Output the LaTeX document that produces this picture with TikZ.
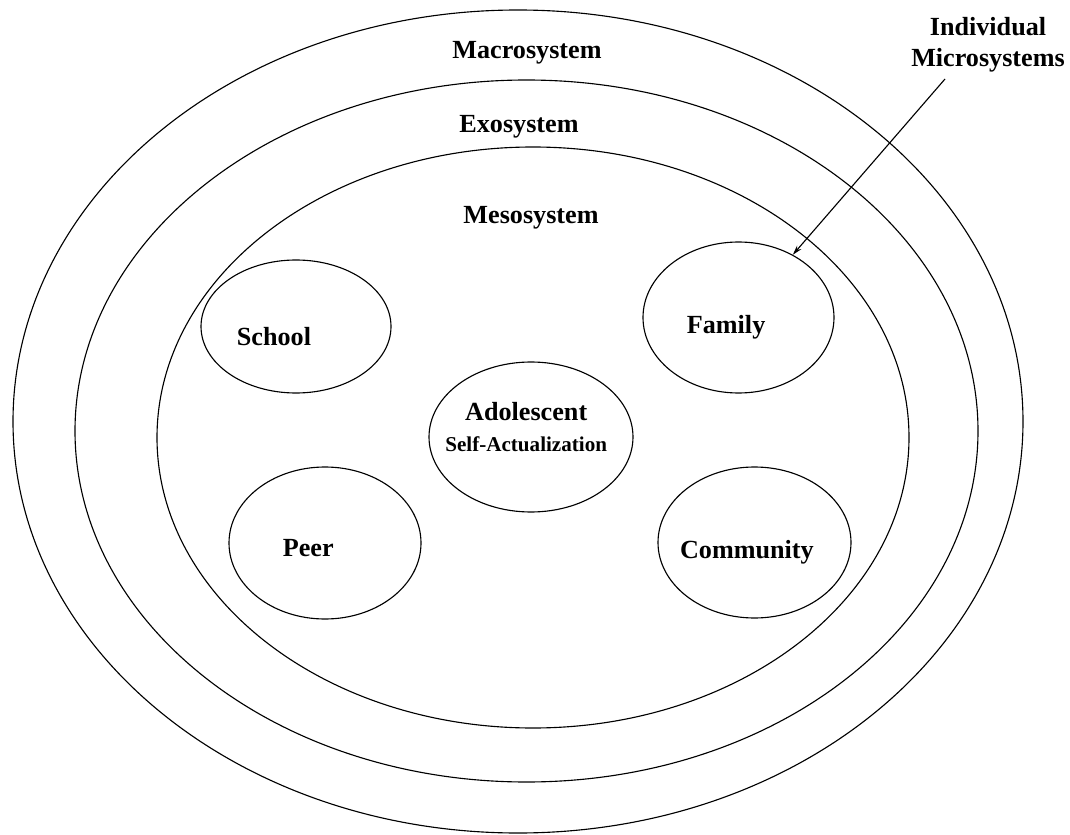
\documentclass[tikz,border=0pt]{standalone}
\usepackage{fontspec}
\setmainfont{Liberation Serif}
\usepackage{tikz}
\usetikzlibrary{shapes.geometric,arrows.meta}

\begin{document}
\begin{tikzpicture}
	\tikzstyle{ring}=[ellipse, draw=black, line width=0.8pt, inner sep=0pt]
	\tikzstyle{micro}=[ellipse, draw=black, line width=0.8pt, inner sep=0pt]
	\tikzstyle{title}=[font=\fontsize{18.6}{22}\selectfont\bfseries]
	\useasboundingbox (0,0) rectangle (26.75,-20.875);
	
	% Rings
	\node at (12.95,-10.5375) [ring, minimum width=25.25cm, minimum height=20.575cm] (macro) {};
	\node at (13.1625,-10.775) [ring, minimum width=22.575cm, minimum height=17.55cm] (exo) {};
	\node at (13.325,-10.9375) [ring, minimum width=18.8cm, minimum height=14.525cm] (meso) {};
	
	% Ring names
	\node at (13.175,-1.325) [title] (macro_txt) {Macrosystem};
	\node at (12.975,-3.175) [title] (exo_txt) {Exosystem};
	\node at (13.275,-5.45) [title] (meso_txt) {Mesosystem};
	
	% Microsystems
	\node at (7.4,-8.1625) [micro, minimum width=4.75cm, minimum height=3.325cm, label={[title, xshift=-0.55cm, yshift=-0.24cm]center:School}] (school) {};
	\node at (18.4625,-7.9375) [micro, minimum width=4.775cm, minimum height=3.775cm, label={[title, xshift=-0.31cm, yshift=-0.24cm]center:Family}] (family) {};
	\node at (8.125,-13.575) [micro, minimum width=4.8cm, minimum height=3.8cm, label={[title, xshift=-0.42cm, yshift=-0.12cm]center:Peer}] (peer) {};
	\node at (18.8625,-13.5625) [micro, minimum width=4.825cm, minimum height=3.775cm, label={[title, xshift=-0.19cm, yshift=-0.24cm]center:Community}] (community) {};
	
	% Adolescent
	\node at (13.275,-10.925) [micro, minimum width=5.1cm, minimum height=3.75cm, label={[title, align=center, xshift=-0.12cm, yshift=0.24cm]center:Adolescent\\{\fontsize{15}{18}\selectfont Self-Actualization}}] (adolescent) {};
	
	% Pointer
	\node at (24.7,-1.125) [title, align=center] (micro_txt) {Individual\\Microsystems};
	\coordinate (micro_tail) at (23.625,-1.975);
	\draw [-{Stealth[length=7pt, width=4pt]}, line width=0.8pt] (micro_tail) -- (family);
\end{tikzpicture}
\end{document}
